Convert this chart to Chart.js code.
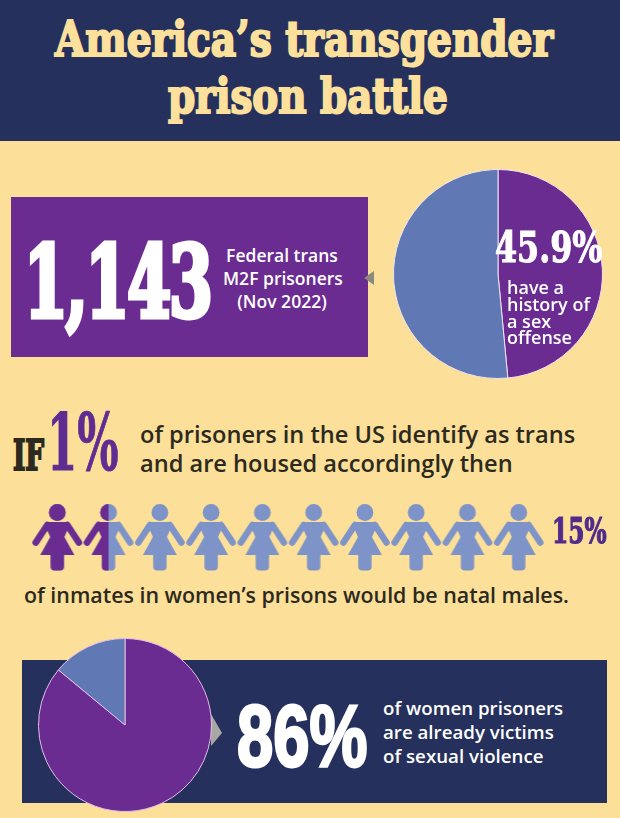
<!DOCTYPE html>
<html>
<head>
<meta charset="utf-8">
<script src="https://cdn.jsdelivr.net/npm/chart.js@4"></script>
<style>
html,body{margin:0;padding:0}
body{width:620px;height:818px;background:#fcdf98;position:relative;overflow:hidden;font-family:"Open Sans",sans-serif}
.box,.t,canvas,svg{position:absolute}
.t{white-space:nowrap;line-height:1;transform-origin:0 0}
.slab{font-family:"DejaVu Serif";font-weight:700;font-stretch:condensed}
.txt{font-weight:600;color:#2c2a20}
</style>
</head>
<body>
<div class="box" style="left:0;top:0;width:620px;height:141px;background:#26305c"></div>
<div class="box" style="left:11px;top:197px;width:357px;height:160px;background:#6b2c91"></div>
<div class="box" style="left:22px;top:660px;width:585px;height:143px;background:#26305c"></div>
<svg style="left:0;top:0" width="620" height="818">
  <polygon points="364,271 364,285 374,278" fill="#8a8a80" transform="rotate(180 369 278)"/>
  <polygon points="211,714 222,733 211,746" fill="#a9a7a4"/>
</svg>

<canvas id="offensePie" width="210" height="210" style="left:393px;top:169px"></canvas>
<canvas id="womenRow" width="574" height="80" style="left:1px;top:498px"></canvas>
<canvas id="victimPie" width="174" height="174" style="left:38px;top:638px"></canvas>

<div class="t slab" style="left:55px;top:15px;font-size:48px;color:#fce09b;transform:scaleX(.905);-webkit-text-stroke:2px #fce09b">America’s transgender</div>
<div class="t slab" style="left:168px;top:72px;font-size:48px;color:#fce09b;transform:scaleX(.9);-webkit-text-stroke:2px #fce09b">prison battle</div>

<div class="t slab" style="left:24px;top:232px;font-size:100px;color:#fff;transform:scaleX(.7);-webkit-text-stroke:5px #fff;letter-spacing:-3px">1,143</div>
<div class="t" style="left:223px;top:244px;width:118px;text-align:center;font-size:17.5px;line-height:23px;color:#fff;font-weight:600">Federal trans<br>M2F prisoners<br>(Nov 2022)</div>

<div class="t slab" style="left:495px;top:227px;font-size:42px;color:#fff;transform:scaleX(.84);-webkit-text-stroke:1px #fff">45.9%</div>
<div class="t" style="left:507px;top:279px;font-size:18px;line-height:16.8px;color:#fff;font-weight:600">have a<br>history of<br>a sex<br>offense</div>

<div class="t slab" style="left:13px;top:435px;font-size:42px;color:#2c2a20;transform:scaleX(.7);-webkit-text-stroke:2px #2c2a20">IF</div>
<div class="t slab" style="left:47px;top:404px;font-size:78px;color:#5f2d91;transform:scaleX(.62);-webkit-text-stroke:1px #5f2d91">1%</div>
<div class="t txt" style="left:140px;top:420px;font-size:23.6px;line-height:29px">of prisoners in the US identify as trans<br>and are housed accordingly then</div>
<div class="t slab" style="left:552px;top:512px;font-size:36px;color:#512b8c;transform:scaleX(.72);-webkit-text-stroke:1.2px #512b8c">15%</div>
<div class="t txt" style="left:24px;top:584px;font-size:21.4px">of inmates in women’s prisons would be natal males.</div>

<div class="t" style="left:237px;top:692px;font-family:'Liberation Sans Narrow','Liberation Sans';font-weight:700;font-size:88px;color:#fff;transform:scaleX(.74);-webkit-text-stroke:3px #fff">86%</div>
<div class="t" style="left:383px;top:696px;font-size:18.7px;line-height:24px;color:#fff;font-weight:600">of women prisoners<br>are already victims<br>of sexual violence</div>

<script>
const purple = '#6b2c91'
const slate = '#6079b4'
const figureBlue = '#7e94c8'

// pie sizes
const offenseLabels = ['sex offense history', 'other']
const offenseValues = [48.5, 51.5]
const victimLabels = ['victims of sexual violence', 'other']
const victimValues = [86, 14]

// row of ten women, share of each one that is coloured in
const figurePositions = [1, 2, 3, 4, 5, 6, 7, 8, 9, 10]
const figureRow = [1, 1, 1, 1, 1, 1, 1, 1, 1, 1]
const figureShare = [1, 0.5, 0, 0, 0, 0, 0, 0, 0, 0]

Chart.defaults.animation = false
Chart.defaults.plugins.legend.display = false
Chart.defaults.plugins.tooltip.enabled = false

const pieOptions = {
    responsive: false,
    layout: { padding: 0 }
}

new Chart('offensePie', {
    type: 'pie',
    data: {
        labels: offenseLabels,
        datasets: [{
            data: offenseValues,
            backgroundColor: [purple, slate],
            borderColor: '#efe3ee',
            borderWidth: 1
        }]
    },
    options: pieOptions
})

new Chart('victimPie', {
    type: 'pie',
    data: {
        labels: victimLabels,
        datasets: [{
            data: victimValues,
            backgroundColor: [purple, slate],
            borderColor: '#e3bdea',
            borderWidth: 1
        }]
    },
    options: pieOptions
})

// silhouette of one woman, the left part up to share is purple
const womanPath = (c) => {
    c.beginPath()
    c.arc(30, 8.5, 8.4, 0, Math.PI * 2)
    c.fill()
    c.lineCap = 'round'
    c.lineJoin = 'round'
    c.lineWidth = 6.5
    c.beginPath()
    c.moveTo(20, 21)
    c.lineTo(8.5, 38.5)
    c.moveTo(40, 21)
    c.lineTo(51.5, 38.5)
    c.stroke()
    c.beginPath()
    c.moveTo(20, 18)
    c.lineTo(40, 18)
    c.lineTo(41, 24)
    c.lineTo(37, 33)
    c.lineTo(47, 51)
    c.lineTo(13, 51)
    c.lineTo(23, 33)
    c.lineTo(19, 24)
    c.closePath()
    c.fill()
    c.beginPath()
    c.roundRect(23.3, 47, 13.4, 19.5, 4)
    c.fill()
}

const makeWoman = (share) => {
    const icon = document.createElement('canvas')
    icon.width = 60
    icon.height = 68
    const c = icon.getContext('2d')
    c.fillStyle = figureBlue
    c.strokeStyle = figureBlue
    womanPath(c)
    if (share > 0) {
        c.save()
        c.beginPath()
        c.rect(0, 0, 60 * share, 68)
        c.clip()
        c.fillStyle = purple
        c.strokeStyle = purple
        womanPath(c)
        c.restore()
    }
    return icon
}

new Chart('womenRow', {
    type: 'scatter',
    data: {
        datasets: [{
            data: figurePositions.map((x, i) => ({ x, y: figureRow[i] })),
            pointStyle: figureShare.map(makeWoman)
        }]
    },
    options: {
        responsive: false,
        layout: { padding: 0 },
        scales: {
            x: { display: false, min: 0, max: 11 },
            y: { display: false, min: 0, max: 2 }
        }
    }
})
</script>
</body>
</html>
